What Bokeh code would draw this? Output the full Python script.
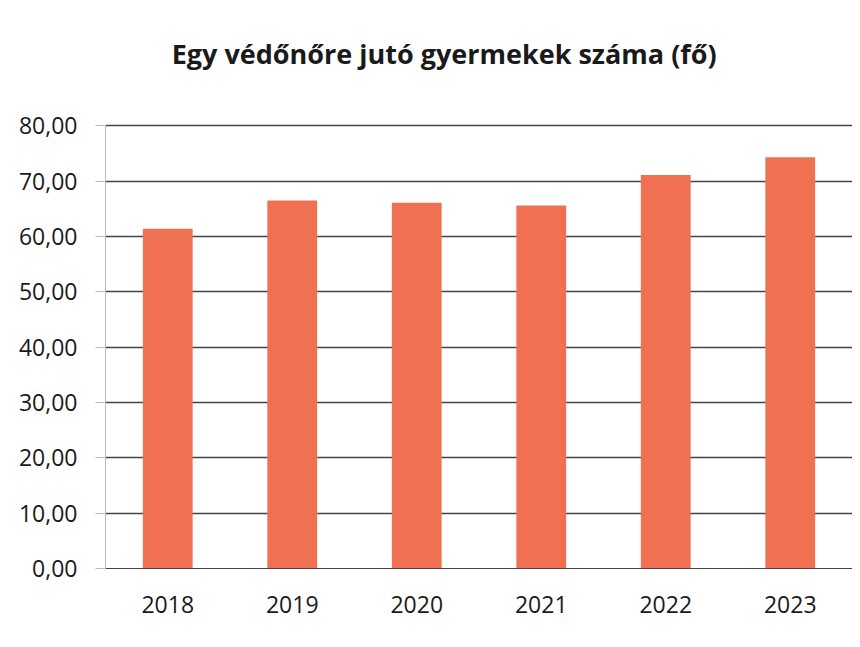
from bokeh.plotting import figure
from bokeh.models import Range1d, FactorRange, FixedTicker, CustomJSTickFormatter, Label
from bokeh.embed import file_html
from bokeh.resources import INLINE

years = ["2018", "2019", "2020", "2021", "2022", "2023"]
values = [61.4, 66.5, 66.1, 65.6, 71.1, 74.3]
y_ticks = [0, 10, 20, 30, 40, 50, 60, 70, 80]
title_text = "Egy védőnőre jutó gyermekek száma (fő)"

# the frame extends above 80 to leave room for the title (axis line bounded to 0..80)
p = figure(width=852, height=639, x_range=FactorRange(*years), y_range=Range1d(0, 97.2),
           output_backend="svg", toolbar_location=None,
           min_border_left=105, min_border_right=0, min_border_top=30, min_border_bottom=71)

p.vbar(x=years, top=values, width=0.4, fill_color="#EF7152", line_color=None)

p.add_layout(Label(x=2.72, y=93.0, text=title_text, text_font="Open Sans",
                   text_font_size="27px", text_font_style="bold", text_color="#1a1a1a",
                   text_align="center", text_baseline="alphabetic"))

p.outline_line_color = None
p.background_fill_color = "white"
p.border_fill_color = "white"

p.yaxis.ticker = FixedTicker(ticks=y_ticks)
p.yaxis.bounds = (0, 80)
p.yaxis.formatter = CustomJSTickFormatter(code="return tick.toFixed(2).replace('.', ',');")
p.yaxis.major_label_text_font = "Open Sans"
p.yaxis.major_label_text_font_size = "23px"
p.yaxis.major_label_text_color = "#1a1a1a"
p.yaxis.axis_line_color = "#bbbbbb"
p.yaxis.major_tick_line_color = "#bbbbbb"
p.yaxis.major_tick_out = 10
p.yaxis.major_tick_in = 0
p.yaxis.minor_tick_line_color = None
p.yaxis.major_label_standoff = 18

p.xaxis.major_label_text_font = "Open Sans"
p.xaxis.major_label_text_font_size = "23px"
p.xaxis.major_label_text_color = "#1a1a1a"
p.xaxis.axis_line_color = "#444444"
p.xaxis.major_tick_line_color = None
p.xaxis.major_label_standoff = 21

p.xgrid.grid_line_color = None
p.ygrid.ticker = FixedTicker(ticks=y_ticks)
p.ygrid.grid_line_color = "#444444"
p.ygrid.grid_line_width = 1.5

open("out.html", "w").write(file_html(p, INLINE))
